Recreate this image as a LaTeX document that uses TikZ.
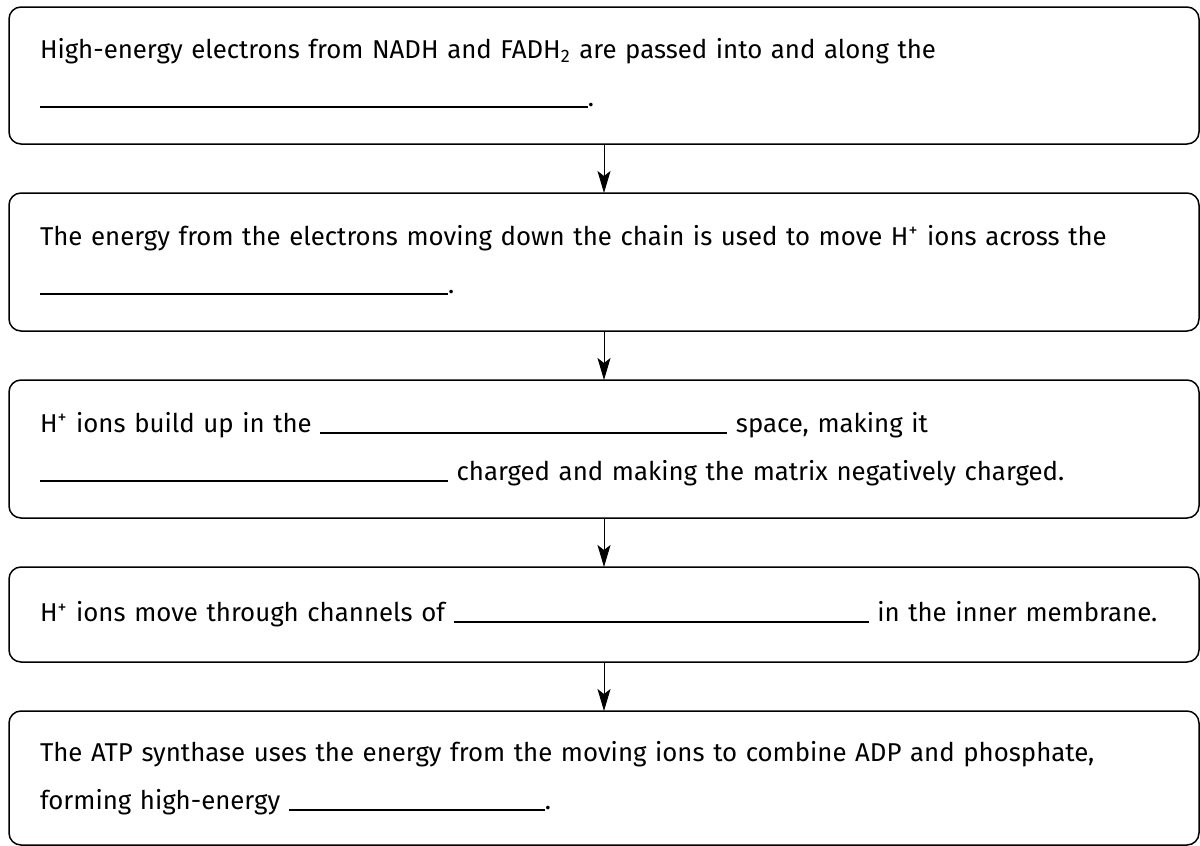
\documentclass[tikz,border=0pt]{standalone}
\usepackage{fontspec}
\setmainfont{Fira Sans}
\usetikzlibrary{arrows.meta,positioning}
\newcommand{\blank}[1]{\rule[-0.6pt]{#1}{0.8pt}\vphantom{g}}

\begin{document}
\begin{tikzpicture}[node distance=24.5pt]
          \tikzstyle{stepbox}=[draw,line width=0.75pt,outer sep=0pt,rounded corners=6pt,text width=564pt,inner xsep=15.5pt,align=left,font=\fontsize{12.9}{24}\selectfont]
          \tikzstyle{flow}=[-{Stealth[length=11pt,width=6.5pt,inset=2.5pt]},line width=0.5pt]
          \useasboundingbox (0,0) rectangle (600pt,-423pt);
          \node[stepbox,minimum height=68.5pt,anchor=north west] (passed) at (4.5pt,-3.5pt)
              {High-energy electrons from NADH and FADH\textsubscript{2} are passed into and along the\\ \blank{274pt}.};
          \node[stepbox,minimum height=69pt,below=of passed] (pumped)
              {The energy from the electrons moving down the chain is used to move H\textsuperscript{+} ions across the\\ \blank{204pt}.};
          \node[stepbox,minimum height=69pt,below=of pumped] (buildup)
              {H\textsuperscript{+} ions build up in the \blank{203.5pt} space, making it\\ \blank{204pt} charged and making the matrix negatively charged.};
          \node[stepbox,minimum height=47.5pt,below=of buildup] (channels)
              {H\textsuperscript{+} ions move through channels of \blank{207.5pt} in the inner membrane.};
          \node[stepbox,minimum height=67pt,below=of channels] (synthase)
              {The ATP synthase uses the energy from the moving ions to combine ADP and phosphate,\\ forming high-energy \blank{128pt}.};
          \draw[flow] (passed) -- (pumped);
          \draw[flow] (pumped) -- (buildup);
          \draw[flow] (buildup) -- (channels);
          \draw[flow] (channels) -- (synthase);
      \end{tikzpicture}
\end{document}
